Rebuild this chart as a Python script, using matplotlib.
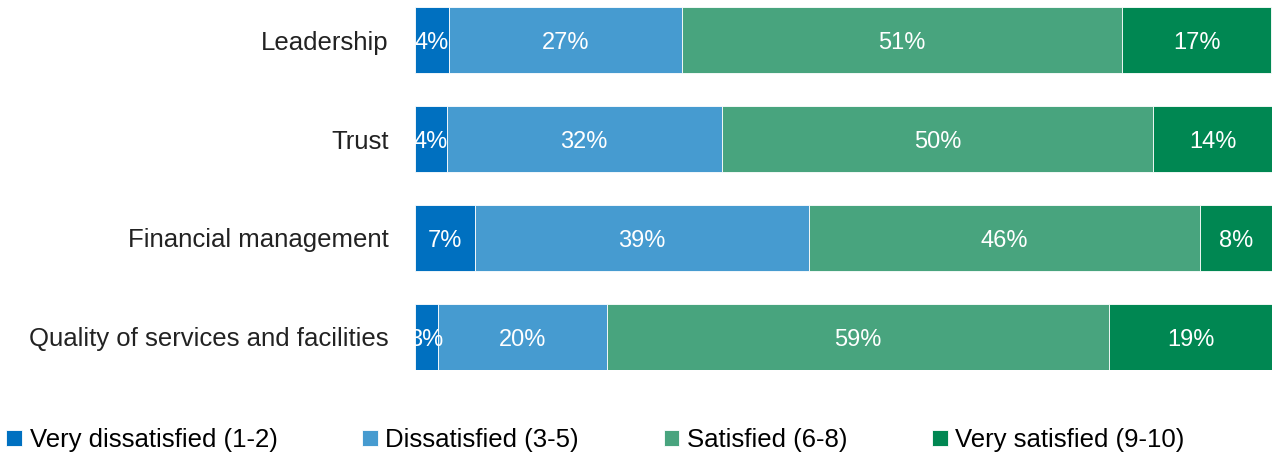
import matplotlib.pyplot as plt
import numpy as np

categories = ["Leadership", "Trust", "Financial management",
              "Quality of services and facilities"]
series_names = ["Very dissatisfied (1-2)", "Dissatisfied (3-5)",
                "Satisfied (6-8)", "Very satisfied (9-10)"]
very_dissatisfied = [4.0, 3.7, 7.0, 2.7]
dissatisfied = [27.1, 32.1, 39.0, 19.7]
satisfied = [51.4, 50.3, 45.6, 58.6]
very_satisfied = [17.4, 13.9, 8.4, 19.0]

COLORS = ["#0070C0", "#469BD0", "#48A47E", "#008752"]

plt.rcParams["font.family"] = ["Liberation Sans", "DejaVu Sans"]

fig = plt.figure(figsize=(12.76, 4.54), dpi=100)
ax = fig.add_axes([0.3252, 0.185, 0.6717, 0.7996])

y = np.arange(len(categories))
left = np.zeros(len(categories))
for name, vals, col in zip(series_names,
                           [very_dissatisfied, dissatisfied, satisfied, very_satisfied],
                           COLORS):
    vals = np.array(vals)
    ax.barh(y, vals, left=left, height=0.67, color=col, edgecolor="white",
            linewidth=0.6, label=name)
    for yi, l, v in zip(y, left, vals):
        ax.text(l + v / 2, yi + 0.03, f"{v:.0f}%", ha="center", va="center",
                color="white", fontsize=17)
    left += vals

ax.set_xlim(0, 100)
ax.set_ylim(len(categories) - 1 + 0.335, -0.335)
ax.set_yticks(y)
ax.set_yticklabels(categories, fontsize=18.5, color="#222222")
ax.tick_params(axis="y", length=0, pad=19)
ax.set_xticks([])
for s in ax.spines.values():
    s.set_visible(False)

fig.legend(loc="lower left", bbox_to_anchor=(-0.007, -0.03), ncol=4, frameon=False,
           fontsize=18.5, handlelength=0.6, handleheight=0.6, handletextpad=0.3,
           columnspacing=3.3, borderaxespad=0.2)

plt.savefig("out.png", dpi=100)
